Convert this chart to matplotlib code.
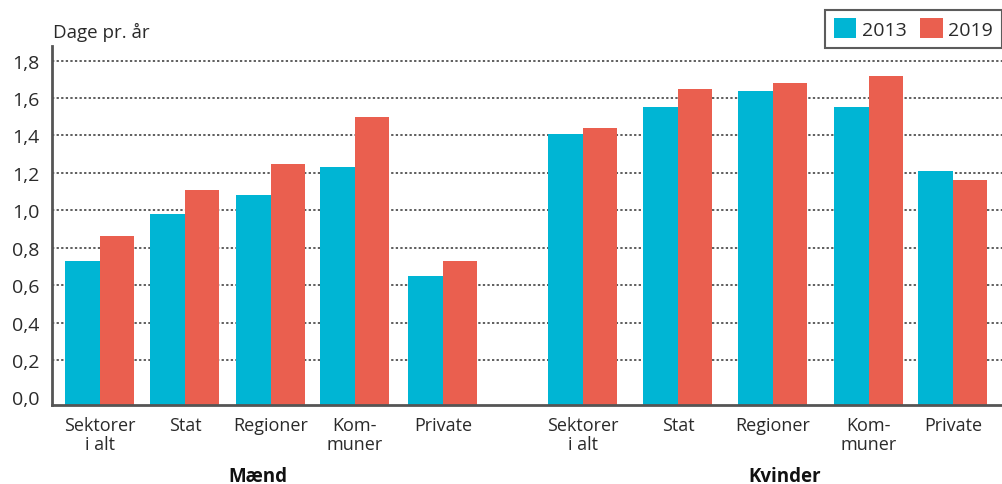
import matplotlib
matplotlib.use("Agg")
import matplotlib.pyplot as plt
from matplotlib.patches import Patch
from matplotlib.ticker import FuncFormatter

plt.rcParams['font.family'] = ['Open Sans', 'Noto Sans', 'DejaVu Sans']

categories = ["Sektorer\ni alt", "Stat", "Regioner", "Kom-\nmuner", "Private",
              "Sektorer\ni alt", "Stat", "Regioner", "Kom-\nmuner", "Private"]
groups = ["Mænd", "Kvinder"]
series_names = ["2013", "2019"]
values_2013 = [0.73, 0.98, 1.08, 1.23, 0.65, 1.41, 1.55, 1.64, 1.55, 1.21]
values_2019 = [0.86, 1.11, 1.25, 1.50, 0.73, 1.44, 1.65, 1.68, 1.72, 1.16]
y_ticks = [0.0, 0.2, 0.4, 0.6, 0.8, 1.0, 1.2, 1.4, 1.6, 1.8]
y_label = "Dage pr. år"

# layout (pixel-like x units)
positions = [100, 185, 271, 355, 443, 583, 678, 773, 869, 953]
bar_w = 34.5
group_label_x = [258, 785]
blue = "#00B5D4"
red = "#EA5F4F"
txt = "#2a2a2a"

W, H = 1003, 485
fig = plt.figure(figsize=(W / 100, H / 100), dpi=100)
ax = fig.add_axes([52 / W, 1 - 405.7 / H, 1 - 52 / W, (405.7 - 47) / H])

ymin, ymax = -0.039, 1.878
ax.set_xlim(52, 1003)
ax.set_ylim(ymin, ymax)

for yv in y_ticks[1:]:
    ax.axhline(yv, color="#333333", lw=1.1, ls=(0, (1.5, 1.5)), zorder=1)

ax.bar([p - bar_w / 2 for p in positions], [v - ymin for v in values_2013], bar_w,
       bottom=ymin, color=blue, zorder=2, linewidth=0)
ax.bar([p + bar_w / 2 for p in positions], [v - ymin for v in values_2019], bar_w,
       bottom=ymin, color=red, zorder=2, linewidth=0)

ax.set_yticks(y_ticks)
ax.yaxis.set_major_formatter(FuncFormatter(lambda v, _: f"{v:.1f}".replace(".", ",")))
ax.set_xticks(positions)
ax.set_xticklabels(categories, linespacing=1.12)
ax.tick_params(axis="y", length=0, labelsize=14, colors=txt, pad=9)
ax.tick_params(axis="x", length=0, labelsize=13, colors=txt, pad=8)

for s in ["top", "right"]:
    ax.spines[s].set_visible(False)
for s in ["left", "bottom"]:
    ax.spines[s].set_color("#555555")
    ax.spines[s].set_linewidth(2)

fig.text(53 / W, 1 - 32 / H, y_label, fontsize=13.5, color=txt, va="center", ha="left")

for gx, g in zip(group_label_x, groups):
    fig.text(gx / W, 1 - 477 / H, g, fontsize=13.5, fontweight="bold", ha="center",
             va="center", color="#111111")

handles = [Patch(facecolor=blue, edgecolor="none"), Patch(facecolor=red, edgecolor="none")]
leg = fig.legend(handles, series_names, loc="upper right",
                 bbox_to_anchor=(1002 / W, 1 - 10.7 / H), ncol=2, frameon=True,
                 fancybox=False, fontsize=14, handlelength=1.15, handleheight=1.2,
                 handletextpad=0.3, columnspacing=0.7, borderpad=0.45,
                 borderaxespad=0)
for t in leg.get_texts():
    t.set_color(txt)
leg.get_frame().set_edgecolor("#333333")
leg.get_frame().set_linewidth(1.5)

fig.savefig("out.png", dpi=100)
